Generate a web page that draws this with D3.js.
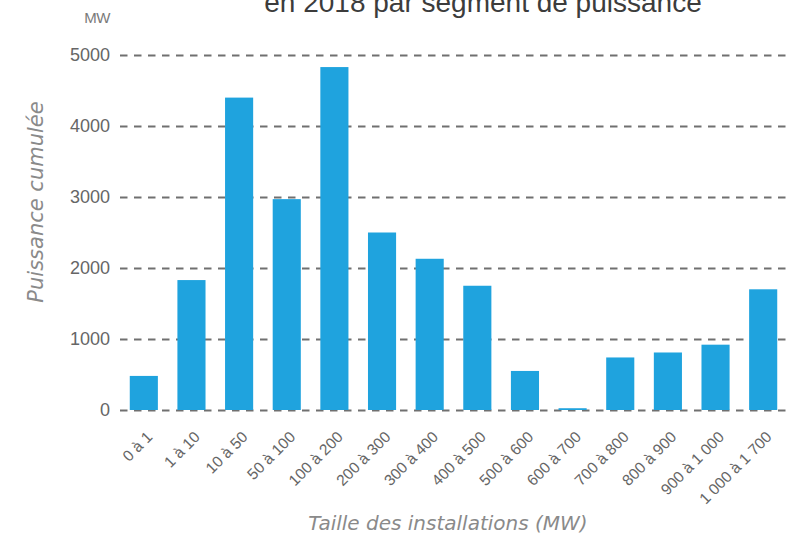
<!DOCTYPE html>
<html>
<head>
<meta charset="utf-8">
<script src="https://cdn.jsdelivr.net/npm/d3@7/dist/d3.min.js"></script>
<style>
  body { margin: 0; background: #ffffff; }
  svg { display: block; }
</style>
</head>
<body>
<svg id="chart" width="792" height="534"></svg>
<script>
// Cumulative installed capacity by installation size segment (MW)
const categories = ["0 à 1", "1 à 10", "10 à 50", "50 à 100", "100 à 200", "200 à 300", "300 à 400",
  "400 à 500", "500 à 600", "600 à 700", "700 à 800", "800 à 900", "900 à 1 000", "1 000 à 1 700"];
const puissance = [480, 1830, 4400, 2970, 4830, 2500, 2130, 1750, 550, 25, 740, 810, 920, 1700];
const yTicks = [0, 1000, 2000, 3000, 4000, 5000];

const titleText = "en 2018 par segment de puissance";
const unitLabel = "MW";
const yTitle = "Puissance cumulée";
const xTitle = "Taille des installations (MW)";

const svg = d3.select("#chart");
const plot = { left: 120, right: 787, top: 55, bottom: 410 };

const x = d3.scaleBand()
  .domain(categories)
  .range([plot.left, plot.right])
  .paddingInner(0.41)
  .paddingOuter(0.205);

const y = d3.scaleLinear()
  .domain([0, 5000])
  .range([plot.bottom, plot.top]);

// Heading (its upper line runs off the top edge)
svg.append("text")
  .attr("x", 483).attr("y", 12)
  .attr("text-anchor", "middle")
  .style("font-family", "'Liberation Sans', Arial, sans-serif")
  .style("font-size", "28px")
  .style("fill", "#3c3c3c")
  .text(titleText);

// Unit above the value axis
svg.append("text")
  .attr("x", 110).attr("y", 23)
  .attr("text-anchor", "end")
  .style("font-family", "'Liberation Sans', Arial, sans-serif")
  .style("font-size", "15px")
  .style("letter-spacing", "-0.5px")
  .style("fill", "#7a7a7a")
  .text(unitLabel);

// Value axis with dashed gridlines
const yAxis = svg.append("g")
  .attr("transform", `translate(${plot.left},0)`)
  .call(d3.axisLeft(y)
    .tickValues(yTicks)
    .tickSize(-(plot.right - plot.left))
    .tickPadding(10)
    .tickFormat(d3.format("d")));

yAxis.select(".domain").remove();
yAxis.selectAll(".tick line")
  .attr("stroke", "#707070")
  .attr("stroke-width", 1.8)
  .attr("stroke-dasharray", "7.5,6.5");
yAxis.selectAll(".tick text")
  .style("font-family", "'Liberation Sans', Arial, sans-serif")
  .style("font-size", "18px")
  .style("fill", "#666666");

// Bars
svg.append("g")
  .selectAll("rect")
  .data(categories)
  .join("rect")
  .attr("x", d => x(d))
  .attr("width", x.bandwidth())
  .attr("y", (d, i) => y(puissance[i]))
  .attr("height", (d, i) => y(0) - y(puissance[i]))
  .attr("fill", "#1fa3de");

// Category axis with slanted labels
const xAxis = svg.append("g")
  .attr("transform", `translate(0,${plot.bottom})`)
  .call(d3.axisBottom(x).tickSize(0));

xAxis.select(".domain").remove();
xAxis.selectAll(".tick text")
  .attr("x", 0).attr("y", 0).attr("dy", 0)
  .attr("transform", "translate(9.5,28) rotate(-45)")
  .attr("text-anchor", "end")
  .style("font-family", "'Liberation Sans', Arial, sans-serif")
  .style("font-size", "15.5px")
  .style("fill", "#666666");

// Axis titles
svg.append("text")
  .attr("transform", "translate(43,202) rotate(-90)")
  .attr("text-anchor", "middle")
  .style("font-family", "'DejaVu Sans', sans-serif")
  .style("font-style", "italic")
  .style("font-size", "21px")
  .style("fill", "#8a8a8a")
  .text(yTitle);

svg.append("text")
  .attr("x", 448).attr("y", 530)
  .attr("text-anchor", "middle")
  .style("font-family", "'DejaVu Sans', sans-serif")
  .style("font-style", "italic")
  .style("font-size", "20px")
  .style("fill", "#8a8a8a")
  .text(xTitle);
</script>
</body>
</html>
